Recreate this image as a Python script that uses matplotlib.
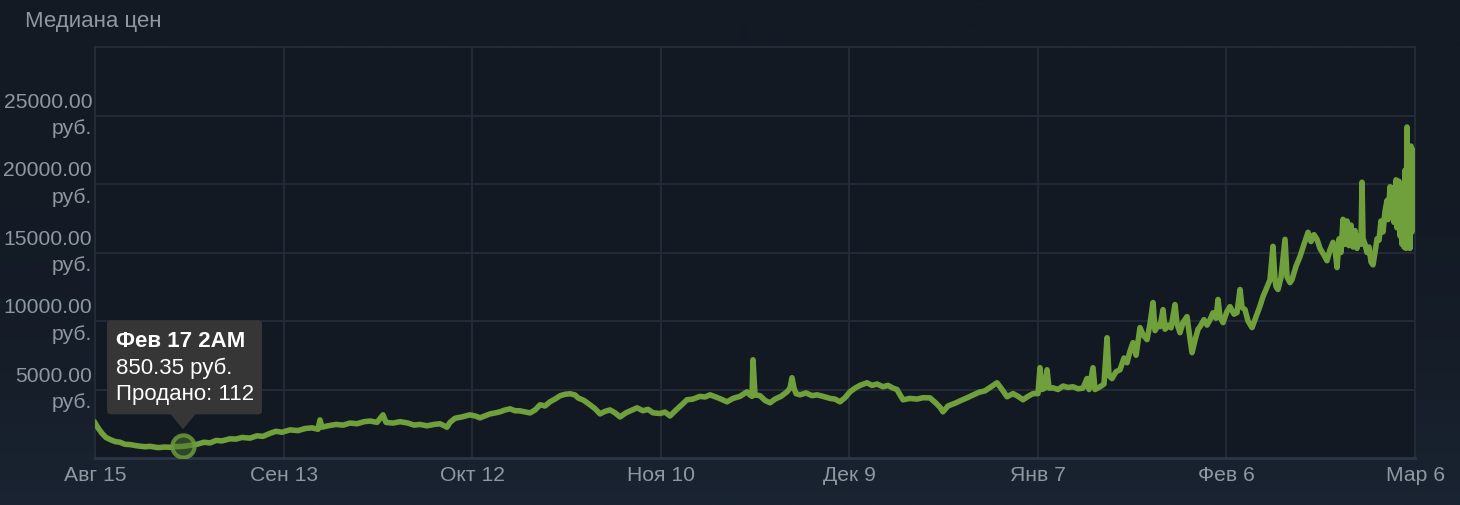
import numpy as np
import matplotlib
matplotlib.use('Agg')
import matplotlib.pyplot as plt
from matplotlib.patches import FancyBboxPatch, Polygon
from matplotlib.transforms import IdentityTransform

# days since Aug 15 and median price (руб.)
days = [0.0, 0.46, 1.08, 1.69, 2.31, 3.08, 3.84, 4.61, 5.38, 6.61,
        7.69, 8.46, 9.69, 10.77, 11.53, 12.46, 13.53, 14.61, 15.69, 16.76,
        17.69, 18.61, 19.53, 20.76, 21.68, 22.61, 23.84, 24.91, 25.84, 26.91,
        27.84, 28.76, 29.99, 31.22, 32.30, 33.37, 34.30, 34.60, 34.91, 35.83,
        37.06, 38.14, 39.22, 40.29, 41.37, 42.29, 43.37, 44.29, 44.75, 45.83,
        46.91, 48.14, 49.06, 49.98, 51.06, 52.13, 53.06, 54.13, 54.60, 55.36,
        56.44, 57.67, 58.59, 59.21, 60.13, 60.75, 61.67, 62.28, 63.05, 63.82,
        64.59, 65.36, 66.28, 66.90, 67.67, 68.44, 69.21, 69.97, 70.74, 71.51,
        72.28, 73.05, 73.82, 74.28, 75.20, 76.13, 76.90, 77.66, 78.43, 79.20,
        79.97, 80.74, 81.66, 82.59, 83.35, 84.28, 85.05, 85.81, 86.89, 87.66,
        88.43, 89.35, 90.27, 91.04, 91.97, 93.04, 93.81, 94.58, 95.50, 96.27,
        97.20, 98.12, 99.19, 100.27, 100.73, 101.04, 101.19, 101.50, 102.27, 103.04,
        103.81, 104.58, 105.50, 106.42, 106.88, 107.19, 107.50, 107.81, 108.42, 109.34,
        110.27, 111.04, 111.96, 113.04, 113.80, 114.57, 115.34, 116.11, 116.88, 117.65,
        118.73, 119.49, 120.26, 121.19, 121.96, 122.72, 123.34, 123.80, 124.26, 125.34,
        126.42, 127.34, 128.41, 129.34, 129.95, 130.41, 131.18, 132.26, 133.18, 134.10,
        135.03, 135.95, 136.87, 137.80, 138.72, 139.49, 140.26, 141.18, 141.95, 142.72,
        143.49, 144.26, 145.02, 145.33, 145.64, 146.10, 146.41, 146.72, 147.33, 148.10,
        148.87, 149.64, 150.41, 151.18, 151.94, 152.56, 152.87, 153.48, 153.79, 154.56,
        155.17, 155.64, 155.94, 156.40, 157.02, 157.63, 158.25, 158.71, 159.17, 159.63,
        160.10, 160.71, 161.17, 161.79, 162.25, 162.71, 163.02, 163.48, 163.79, 164.25,
        164.56, 165.02, 165.48, 166.09, 166.40, 166.86, 167.32, 167.94, 168.25, 168.71,
        169.17, 169.63, 169.94, 170.55, 171.01, 171.48, 171.94, 172.40, 172.71, 173.01,
        173.48, 174.09, 174.55, 175.17, 175.63, 176.09, 176.40, 176.86, 177.32, 177.94,
        178.55, 179.17, 179.63, 180.09, 180.70, 181.16, 181.47, 181.63, 181.93, 182.40,
        183.01, 183.32, 183.78, 184.09, 184.70, 185.32, 185.93, 186.55, 187.01, 187.47,
        187.93, 188.39, 189.01, 189.47, 189.93, 190.39, 190.70, 191.01, 191.32, 191.62,
        191.93, 192.24, 192.55, 192.85, 193.16, 193.47, 193.78, 194.08, 194.39, 194.70,
        194.85, 195.01, 195.31, 195.62, 195.93, 196.24, 196.54, 196.85, 197.16, 197.47,
        197.77, 198.08, 198.39, 198.70, 198.85, 199.16, 199.31, 199.62, 199.77, 200.08,
        200.23, 200.54, 200.70, 200.85, 201.00, 201.16, 201.31, 201.46, 201.62, 201.77,
        201.93, 202.08, 202.23, 202.39, 202.54, 202.70, 202.85, 203.00]
prices = [2560, 2200, 1800, 1500, 1350, 1200, 1150, 1000, 980, 880,
          820, 850, 760, 800, 780, 830, 850, 920, 1000, 1150,
          1100, 1280, 1250, 1400, 1380, 1500, 1450, 1620, 1580, 1800,
          1950, 1880, 2050, 2000, 2150, 2200, 2100, 2780, 2250, 2350,
          2450, 2400, 2550, 2500, 2650, 2700, 2600, 3150, 2600, 2550,
          2650, 2550, 2400, 2450, 2350, 2450, 2500, 2250, 2600, 2900,
          3000, 3150, 3050, 2930, 3100, 3220, 3300, 3370, 3500, 3590,
          3450, 3440, 3350, 3290, 3500, 3880, 3800, 4100, 4300, 4540,
          4650, 4690, 4600, 4390, 4200, 3880, 3600, 3220, 3400, 3510,
          3300, 3000, 3300, 3500, 3660, 3450, 3550, 3300, 3250, 3350,
          3070, 3500, 3900, 4250, 4300, 4500, 4450, 4610, 4450, 4300,
          4100, 4350, 4500, 4830, 4600, 4500, 7170, 4600, 4550, 4200,
          4030, 4300, 4500, 4830, 5100, 5860, 5100, 4700, 4610, 4750,
          4550, 4610, 4500, 4350, 4300, 4100, 4400, 4830, 5100, 5300,
          5490, 5300, 5400, 5200, 5300, 5100, 5000, 4610, 4250, 4350,
          4300, 4400, 4390, 4000, 3700, 3370, 3800, 4000, 4200, 4390,
          4600, 4800, 4900, 5200, 5490, 5000, 4470, 4700, 4500, 4250,
          4500, 4700, 4700, 6590, 5000, 5100, 6440, 5100, 5120, 5000,
          5250, 5150, 5200, 5050, 5100, 5800, 5000, 6590, 5000, 5200,
          5400, 8780, 6000, 5800, 6300, 6440, 7300, 6950, 7800, 8420,
          7500, 9520, 9000, 8640, 9800, 11350, 9300, 9700, 9590, 10830,
          9400, 9700, 9500, 11200, 9800, 9150, 9900, 10320, 9200, 7690,
          8600, 9400, 9590, 10100, 9700, 10100, 10600, 10200, 11570, 10300,
          9880, 10700, 11050, 10500, 10610, 12300, 11000, 10830, 10000, 9520,
          10300, 11100, 11790, 12300, 13000, 15450, 13000, 12500, 12300, 13200,
          15960, 13200, 12800, 13030, 14000, 14710, 15600, 16470, 15800, 16300,
          15960, 15300, 14800, 14400, 15200, 15740, 15200, 13900, 16000, 15000,
          17420, 15600, 17300, 15500, 17000, 15400, 16600, 15300, 16200, 15600,
          20130, 16000, 15600, 15000, 15400, 14300, 14100, 15000, 16000, 15900,
          17300, 16500, 18000, 18800, 17400, 19800, 17800, 19700, 17200, 20300,
          16800, 20200, 16200, 19500, 15600, 19000, 15400, 21000, 15300, 24160,
          15500, 21500, 15300, 22770, 16500, 22500, 17000, 17200]

tick_days = [0, 29, 58, 87, 116, 145, 174, 203]
tick_labels = ['Авг 15', 'Сен 13', 'Окт 12', 'Ноя 10', 'Дек 9', 'Янв 7', 'Фев 6', 'Мар 6']
y_ticks = [5000, 10000, 15000, 20000, 25000, 30000]

hover_day = 13.53
hover_price = 850.35
hover_sold = 112
hover_label = 'Фев 17 2AM'

plt.rcParams['font.family'] = ['Liberation Sans', 'DejaVu Sans']

bg = '#131a24'
grid_c = '#232c39'
text_c = '#8f98a0'
green = '#6fa03c'

fig = plt.figure(figsize=(14.6, 5.05), dpi=100, facecolor=bg)

# subtle vertical gradient behind everything
bg_ax = fig.add_axes([0, 0, 1, 1], zorder=-10)
grad = np.linspace(0, 1, 256).reshape(-1, 1) ** 3
bg_ax.imshow(grad, aspect='auto', cmap=matplotlib.colors.LinearSegmentedColormap.from_list(
    'bg', ['#131a24', '#1a2432']), origin='upper', extent=[0, 1, 0, 1])
bg_ax.axis('off')

ax = fig.add_axes([95 / 1460, 47 / 505, 1320 / 1460, 411 / 505])
ax.set_facecolor('#121922')

ax.plot(days, prices, color=green, lw=4.0, solid_joinstyle='round', zorder=3)

ax.set_xlim(0, 203)
ax.set_ylim(0, 30000)
ax.set_xticks(tick_days)
ax.set_xticklabels(tick_labels)
ax.set_yticks(y_ticks)
ax.set_yticklabels([f'{v:.2f}\nруб.' if v < 30000 else '' for v in y_ticks],
                   va='center', linespacing=1.5)
ax.tick_params(axis='both', length=0, colors=text_c, labelsize=15.2)
ax.tick_params(axis='x', pad=6)
ax.tick_params(axis='y', pad=2)
ax.grid(True, color=grid_c, lw=1.3)
for side in ['top', 'left', 'right']:
    ax.spines[side].set_color(grid_c)
    ax.spines[side].set_linewidth(1.3)
ax.spines['bottom'].set_color('#2b3646')
ax.spines['bottom'].set_linewidth(2)

fig.text(25 / 1460, 1 - 21 / 505, 'Медиана цен', color=text_c, fontsize=16, va='center')

# hover marker
ax.plot([hover_day], [hover_price], 'o', ms=16, mfc=(0.3, 0.45, 0.18, 0.5),
        mec=(0.42, 0.6, 0.23, 0.85), mew=3, zorder=4)

# tooltip
px, py = ax.transData.transform((hover_day, hover_price))
tip_c = '#363636'
box = FancyBboxPatch((px - 72, py + 36), 147, 86, boxstyle='round,pad=4,rounding_size=4',
                     fc=tip_c, ec='none', transform=IdentityTransform(), zorder=5, clip_on=False)
fig.patches.append(box)
tri = Polygon([(px - 13, py + 33), (px + 13, py + 33), (px, py + 17)], closed=True,
              fc=tip_c, ec='none', transform=IdentityTransform(), zorder=5)
fig.patches.append(tri)
tx = px - 67
fig.text(tx, py + 105, hover_label, transform=IdentityTransform(), color='white',
         fontsize=16, fontweight='bold', va='center', zorder=6)
fig.text(tx, py + 78, f'{hover_price:.2f} руб.', transform=IdentityTransform(),
         color='white', fontsize=16, va='center', zorder=6)
fig.text(tx, py + 52, f'Продано: {hover_sold}', transform=IdentityTransform(),
         color='white', fontsize=16, va='center', zorder=6)

fig.savefig('out.png', dpi=100, facecolor=bg)
